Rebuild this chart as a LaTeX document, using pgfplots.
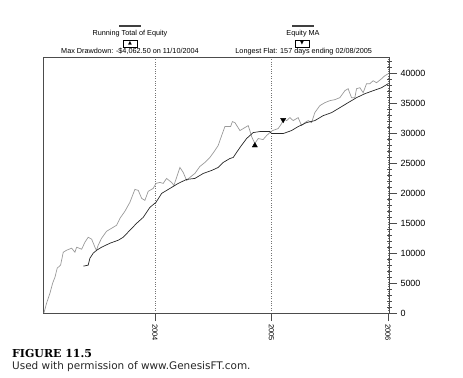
\documentclass[border=0pt]{standalone}
\usepackage{fontspec}
\newfontfamily\arial{Liberation Sans}
\newfontfamily\dejavu{DejaVu Sans}
\newfontfamily\dserif{DejaVu Serif}
\usepackage{pgfplots}
\pgfplotsset{compat=1.18}
\begin{document}
\begin{tikzpicture}[x=1bp,y=1bp]
\path[use as bounding box] (-43,-64) rectangle (420,313);
\begin{axis}[
  at={(0,0)}, anchor=south west,
  scale only axis, width=346bp, height=256bp,
  xmin=2003.039, xmax=2006.01, ymin=0, ymax=42800,
  axis line style={draw=black!70, line width=0.8pt},
  font=\arial,
  scaled y ticks=false, scaled x ticks=false,
  /pgf/number format/assume math mode=true,
  xtick={2004,2005,2006}, xticklabels={2004,2005,2006},
  xtick pos=bottom, xtick align=outside,
  xticklabel style={rotate=-90, anchor=west, font=\arial\fontsize{7.5}{8}\selectfont},
  xmajorgrids, grid style={dotted, black!55, line width=0.6pt},
  ytick={0,5000,...,40000},
  yticklabels={0,5000,10000,15000,20000,25000,30000,35000,40000},
  ytick pos=right, yticklabel pos=right, ytick align=outside,
  major tick length=8bp,
  tick style={black!70, line width=0.6pt},
  yticklabel style={font=\arial\fontsize{9}{10}\selectfont},
  extra y ticks={1000,2000,3000,4000,6000,7000,8000,9000,11000,12000,13000,14000,16000,17000,18000,19000,21000,22000,23000,24000,26000,27000,28000,29000,31000,32000,33000,34000,36000,37000,38000,39000,41000,42000},
  extra y tick labels={},
  extra y tick style={tick align=center, major tick length=5bp, ymajorgrids=false},
]
% Running total of equity
\addplot[black!40, line width=0.7pt] coordinates {
(2003.047,0) (2003.070,1667) (2003.099,3333) (2003.122,5000) (2003.142,6000)
(2003.161,7500) (2003.190,8000) (2003.213,10167) (2003.242,10500) (2003.285,10833)
(2003.313,10167) (2003.328,11000) (2003.371,10667) (2003.399,11833) (2003.427,12667)
(2003.457,12333) (2003.485,11000) (2003.498,10500) (2003.513,11333) (2003.542,12500)
(2003.585,13667) (2003.628,14167) (2003.671,14667) (2003.700,15833) (2003.742,17000)
(2003.785,18500) (2003.828,20667) (2003.857,20500) (2003.886,19167) (2003.914,18833)
(2003.942,20333) (2003.985,20833) (2004.009,21667) (2004.043,21833) (2004.071,21667)
(2004.100,22500) (2004.143,21833) (2004.163,21333) (2004.186,22667) (2004.215,24333)
(2004.243,23500) (2004.272,22167) (2004.300,22667) (2004.343,23333) (2004.386,24500)
(2004.429,25167) (2004.472,26000) (2004.515,27167) (2004.543,28000) (2004.573,29667)
(2004.601,31167) (2004.650,31167) (2004.665,32000) (2004.687,31833) (2004.730,30500)
(2004.758,30833) (2004.801,31333) (2004.815,30500) (2004.830,29500) (2004.858,28333)
(2004.887,29167) (2004.929,29000) (2004.959,29667) (2004.987,30167) (2005.010,30500)
(2005.058,30833) (2005.088,31667) (2005.101,32500) (2005.131,32167) (2005.159,32667)
(2005.187,32167) (2005.230,32667) (2005.259,31333) (2005.288,31833) (2005.316,32167)
(2005.345,31833) (2005.373,33500) (2005.416,34667) (2005.459,35167) (2005.502,35500)
(2005.545,35667) (2005.588,36000) (2005.631,37167) (2005.659,37500) (2005.688,36000)
(2005.717,36000) (2005.731,37500) (2005.760,37667) (2005.788,36833) (2005.817,38333)
(2005.845,38333) (2005.874,38833) (2005.903,38500) (2005.946,39167) (2005.974,39667)
(2006.003,40000)
};
% Equity MA
\addplot[black!85, line width=0.7pt] coordinates {
(2003.385,7833) (2003.427,8000) (2003.442,9167) (2003.470,10000) (2003.500,10500)
(2003.542,11000) (2003.614,11667) (2003.685,12167) (2003.728,12667) (2003.785,13833)
(2003.843,15000) (2003.900,16000) (2003.957,17667) (2004.009,18500) (2004.058,20000)
(2004.129,20833) (2004.200,21667) (2004.272,22333) (2004.343,22500) (2004.415,23333)
(2004.487,23833) (2004.543,24333) (2004.586,25167) (2004.644,25833) (2004.672,26000)
(2004.730,27667) (2004.787,29167) (2004.844,30167) (2004.901,30333) (2004.987,30333)
(2005.002,30000) (2005.101,30000) (2005.173,30500) (2005.230,31167) (2005.302,31833)
(2005.373,32167) (2005.445,33000) (2005.517,33500) (2005.588,34333) (2005.659,35167)
(2005.731,36000) (2005.803,36667) (2005.874,37167) (2005.946,37667) (2006.003,38333)
};
% Max drawdown marker
\addplot[only marks, mark=triangle*, mark size=3bp, black] coordinates {(2004.858,28000)};
% Longest flat marker
\addplot[only marks, mark=triangle*, mark size=3bp, black, mark options={rotate=180}] coordinates {(2005.101,32300)};
\end{axis}
% legend header
\draw[black!75, line width=2pt] (76,287) -- (98,287);
\draw[black!75, line width=2pt] (249,287) -- (271,287);
\node[anchor=base, inner sep=0pt, font=\arial\fontsize{7.3}{8}\selectfont] at (87,277.5) {Running Total of Equity};
\node[anchor=base, inner sep=0pt, font=\arial\fontsize{7.3}{8}\selectfont] at (260,277.5) {Equity MA};
\node[draw=black, line width=0.6pt, minimum width=14bp, minimum height=7bp, inner sep=0pt, font=\dejavu\fontsize{5}{5}\selectfont] at (87,269.5) {▲};
\node[draw=black, line width=0.6pt, minimum width=14bp, minimum height=7bp, inner sep=0pt, font=\dejavu\fontsize{5}{5}\selectfont] at (259,269.5) {▼};
\node[anchor=base, inner sep=0pt, font=\arial\fontsize{7.3}{8}\selectfont] at (87,260) {Max Drawdown: -\$4,062.50 on 11/10/2004};
\node[anchor=base, inner sep=0pt, font=\arial\fontsize{7.3}{8}\selectfont] at (260.7,260) {Longest Flat: 157 days ending 02/08/2005};
% caption
\node[anchor=base west, inner sep=0pt, font=\dserif\bfseries\fontsize{11}{12}\selectfont] at (-31,-44) {FIGURE 11.5};
\node[anchor=base west, inner sep=0pt, font=\dejavu\fontsize{10.5}{12}\selectfont, text=black!85] at (-31,-56) {Used with permission of www.GenesisFT.com.};
\end{tikzpicture}
\end{document}
